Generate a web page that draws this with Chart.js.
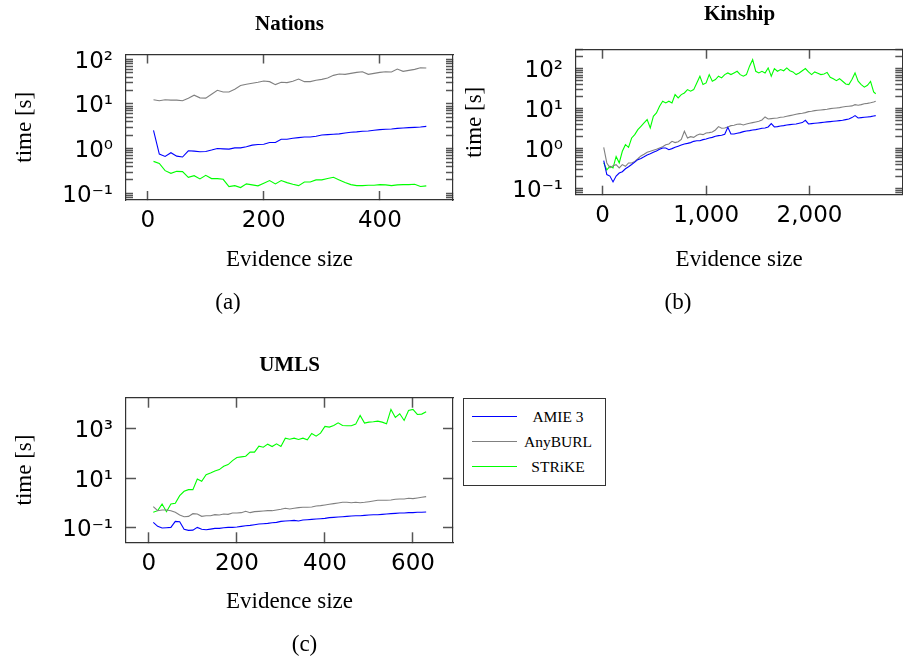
<!DOCTYPE html>
<html><head><meta charset="utf-8">
<script src="https://cdn.jsdelivr.net/npm/chart.js@4.4.1/dist/chart.umd.min.js"></script>
<style>
html,body{margin:0;padding:0;background:#fff;}
body{width:903px;height:662px;position:relative;overflow:hidden;font-family:"Liberation Serif","Times New Roman",serif;color:#000;}
canvas{position:absolute;}
.t{position:absolute;transform:translate(-50%,-50%);white-space:nowrap;line-height:1;}
.title{font-weight:bold;font-size:21px;}
.cap{font-size:23px;}
.lg{position:absolute;height:0;}
.lgt{position:absolute;transform:translate(-50%,-50%);white-space:nowrap;line-height:1;font-size:15.5px;}
</style></head><body>
<canvas id="c1" width="460" height="300" style="left:0;top:0"></canvas>
<canvas id="c2" width="453" height="300" style="left:450px;top:0"></canvas>
<canvas id="c3" width="460" height="300" style="left:0;top:340px"></canvas>

<div class="t title" style="left:289.5px;top:22.7px">Nations</div>
<div class="t title" style="left:739.5px;top:13.3px">Kinship</div>
<div class="t title" style="left:289.5px;top:364px">UMLS</div>
<div class="t cap" style="left:228px;top:301px">(a)</div>
<div class="t cap" style="left:678px;top:301px">(b)</div>
<div class="t cap" style="left:304.5px;top:642.5px">(c)</div>

<div id="legend" style="position:absolute;left:463px;top:398px;width:143px;height:88px;border:1px solid #333;box-sizing:border-box;"></div>

<script>
// ---------- Data ----------
const seriesNames = ['AMIE 3', 'AnyBURL', 'STRiKE'];
const seriesColors = ['#0000ff', '#808080', '#00ff00'];

// Nations
const nationsX = [10,20,30,40,50,60,70,80,90,100,110,120,130,140,150,160,170,180,190,200,210,220,230,240,250,260,270,280,290,300,310,320,330,340,350,360,370,380,390,400,410,420,430,440,450,460,470,480];
const nationsAmie = [2.58,0.755,0.67,0.81,0.68,0.65,0.895,0.88,0.85,0.865,0.93,1.01,0.99,0.975,1.04,1.04,1.10,1.20,1.24,1.26,1.37,1.37,1.63,1.63,1.71,1.77,1.83,1.83,1.90,2.03,2.06,2.10,2.14,2.25,2.33,2.37,2.45,2.49,2.58,2.67,2.71,2.76,2.85,2.90,2.95,3.00,3.06,3.16];
const nationsAnyburl = [12.4,11.8,12.4,12.2,12.2,11.8,13.5,15.7,13.7,13.5,16.5,20.3,18.6,18.6,21.4,25.8,27.6,29.0,30.6,32.7,31.6,27.1,30.6,30.0,32.2,36.2,31.6,31.6,33.9,35.6,38.1,43.7,46.8,46.0,48.4,51.0,52.7,46.0,48.4,51.0,52.7,51.9,60.5,53.7,56.5,59.4,64.7,63.6];
const nationsStrike = [0.519,0.468,0.322,0.281,0.311,0.306,0.229,0.249,0.210,0.253,0.214,0.214,0.206,0.142,0.149,0.135,0.163,0.155,0.147,0.168,0.193,0.163,0.193,0.174,0.160,0.149,0.180,0.180,0.20,0.20,0.214,0.229,0.20,0.174,0.157,0.149,0.149,0.152,0.152,0.157,0.155,0.149,0.155,0.157,0.157,0.160,0.142,0.147];

// Kinship
const kinshipX = [10,40,70,100,130,160,190,220,250,280,310,340,370,400,430,460,490,520,550,580,610,640,670,700,730,760,790,820,850,880,910,940,970,1000,1030,1060,1090,1120,1150,1180,1210,1240,1270,1300,1330,1360,1390,1420,1450,1480,1510,1540,1570,1600,1630,1660,1690,1720,1750,1780,1810,1840,1870,1900,1930,1960,1990,2020,2050,2080,2110,2140,2170,2200,2230,2260,2290,2320,2350,2380,2410,2440,2470,2500,2530,2560,2590,2620,2640];
const kinshipAmie = [0.51,0.23,0.21,0.15,0.21,0.25,0.27,0.32,0.36,0.41,0.47,0.54,0.58,0.64,0.71,0.76,0.83,0.89,0.98,1.06,1.06,0.96,1.02,1.1,1.17,1.25,1.33,1.38,1.44,1.55,1.61,1.61,1.71,1.77,1.88,1.95,2.07,2.15,2.2,2.33,3.48,2.37,2.37,2.46,2.56,2.71,2.82,2.87,2.98,3.04,3.16,3.29,3.35,3.55,4.3,3.55,3.62,3.76,3.83,3.98,4.06,4.14,4.22,4.39,4.56,5.2,4.22,4.3,4.39,4.47,4.56,4.65,4.74,4.83,4.92,5.0,5.1,5.2,5.41,5.62,6.07,6.81,5.96,6.07,6.19,6.31,6.43,6.69,6.81];
const kinshipAnyburl = [1.1,0.447,0.34,0.38,0.406,0.335,0.406,0.369,0.447,0.447,0.49,0.57,0.67,0.74,0.83,0.875,0.93,0.98,1.06,1.14,1.28,1.33,1.55,1.44,1.52,1.74,2.77,1.88,2.03,1.95,2.2,2.37,2.28,2.51,2.56,2.66,2.98,3.62,3.29,3.35,3.55,3.83,3.9,4.14,4.22,3.98,4.22,4.39,4.56,4.74,4.92,5.31,6.31,5.62,5.73,5.84,5.96,6.19,6.31,6.56,6.81,7.08,7.36,7.64,7.79,8.1,8.57,8.74,9.08,9.26,9.44,9.62,9.8,10.2,10.4,10.6,10.8,11.2,11.5,11.7,11.9,12.8,12.4,12.8,13.5,13.8,14.3,14.9,15.5];
const kinshipStrike = [0.45,0.30,0.37,0.335,0.65,0.45,0.875,1.28,1.1,1.88,2.28,3.04,3.69,4.47,5.41,3.35,6.56,7.94,11.7,15.6,14.1,15.6,14.1,22.8,18.8,22.8,25.1,30.4,27.7,30.4,44.7,65.6,40.6,44.7,72.1,49.2,54.1,65.6,59.6,72.1,79.4,72.1,79.4,87.4,72,65.6,72.1,117,170,87.4,79.4,87.4,79.4,106,65.6,102,87.4,96.2,90,106,90,84,72.1,79.4,90,102,84,72.1,84,78,72.1,75,82,62,57,51,57,49.2,42,40.6,54.1,79.4,49.2,40.6,35,39,49,26.5,24];

// UMLS
const umlsX = [10,20,30,40,50,60,70,80,90,100,110,120,130,140,150,160,170,180,190,200,210,220,230,240,250,260,270,280,290,300,310,320,330,340,350,360,370,380,390,400,410,420,430,440,450,460,470,480,490,500,510,520,530,540,550,560,570,580,590,600,610,620,630];
const umlsAmie = [0.164,0.113,0.097,0.100,0.103,0.180,0.175,0.086,0.078,0.080,0.103,0.086,0.083,0.088,0.094,0.094,0.100,0.103,0.103,0.106,0.113,0.120,0.124,0.132,0.141,0.145,0.150,0.159,0.164,0.180,0.186,0.192,0.198,0.186,0.204,0.210,0.217,0.224,0.231,0.238,0.254,0.262,0.270,0.278,0.287,0.296,0.305,0.305,0.315,0.325,0.335,0.335,0.346,0.356,0.368,0.379,0.392,0.392,0.404,0.404,0.417,0.417,0.430];
const umlsAnyburl = [0.705,0.486,0.518,0.518,0.486,0.417,0.325,0.278,0.287,0.368,0.356,0.287,0.305,0.305,0.335,0.325,0.356,0.346,0.392,0.392,0.404,0.457,0.404,0.443,0.457,0.471,0.486,0.486,0.518,0.551,0.604,0.568,0.604,0.643,0.663,0.663,0.684,0.75,0.774,0.824,0.877,0.933,0.993,1.06,1.06,1.02,1.06,1.02,1.06,1.12,1.19,1.27,1.27,1.27,1.31,1.40,1.44,1.44,1.53,1.49,1.58,1.68,1.79];
const umlsStrike = [0.417,0.486,0.904,0.443,0.904,0.962,1.96,2.94,3.43,3.43,9.25,7.45,13.8,16.2,19.5,22.0,30.1,35.1,50.9,67.3,71.6,76.3,111,111,193,176,233,187,240,187,407,370,407,359,407,348,628,490,648,1205,1132,1322,1694,1322,1282,1282,1497,3350,1642,1803,1860,1979,1803,1545,5860,2782,3914,2104,5335,5860,3680,3795,4714];

// Tick values / labels
const nationsXTicks = [0, 200, 400];
const kinshipXTicks = [0, 1000, 2000];
const umlsXTicks = [0, 200, 400, 600];
const nationsYTicks = [0.1, 1, 10, 100];
const nationsYLabels = ['10\u207B\u00B9', '10\u2070', '10\u00B9', '10\u00B2'];
const kinshipYTicks = [0.1, 1, 10, 100];
const kinshipYLabels = ['10\u207B\u00B9', '10\u2070', '10\u00B9', '10\u00B2'];
const umlsYTicks = [0.1, 10, 1000];
const umlsYLabels = ['10\u207B\u00B9', '10\u00B9', '10\u00B3'];

// ---------- Drawing ----------
function buildYTicks(majors, withMinor, min, max) {
  const out = [];
  if (withMinor) {
    for (let k = -3; k <= 5; k++) {
      for (let s = 1; s <= 9; s++) {
        const v = s * Math.pow(10, k);
        if (v >= min && v <= max) out.push({value: v, major: s === 1});
      }
    }
  } else {
    majors.forEach(v => out.push({value: v, major: true}));
  }
  return out;
}

const FRAME = '#333333';
const TICKC = '#555555';

function makeChart(id, p) {
  const yList = buildYTicks(p.yTicks, p.minor, p.yMin, p.yMax);
  const series = [p.amie, p.anyburl, p.strike];
  const datasets = series.map((s, j) => ({
    label: seriesNames[j],
    data: p.xs.map((x, i) => ({x: x, y: s[i]})),
    borderColor: seriesColors[j],
    borderWidth: 1.1,
    pointRadius: 0,
    fill: false,
    tension: 0,
    xAxisID: 'x',
    yAxisID: 'y'
  }));
  const tickFont = {family: 'DejaVu Sans', size: 23, weight: 'normal'};
  const titleFont = {family: 'Liberation Serif', size: 23};
  const gridX = {display: true, drawOnChartArea: false, drawTicks: true, tickLength: -p.xLen, tickColor: TICKC, tickWidth: 1.5};
  const gridY = {display: true, drawOnChartArea: false, drawTicks: true, tickLength: -p.yLen, tickColor: TICKC, tickWidth: 1.5};
  const border = {display: true, color: FRAME, width: 1.2};
  const xTickObjs = () => p.xTicks.map(v => ({value: v, major: true}));
  const yTickObjs = () => yList.map(t => ({value: t.value, major: t.major}));
  new Chart(document.getElementById(id), {
    type: 'line',
    data: {datasets: datasets},
    options: {
      responsive: false,
      animation: false,
      events: [],
      layout: {padding: p.pad},
      plugins: {
        legend: {display: false},
        tooltip: {enabled: false},
        title: {display: false}
      },
      scales: {
        x: {
          type: 'linear', position: 'bottom', bounds: 'data',
          min: p.xMin, max: p.xMax,
          grid: gridX, border: border,
          ticks: {
            padding: 7.5 + p.xLen, font: tickFont, color: '#000', autoSkip: false, maxRotation: 0,
            callback: v => Number(v).toLocaleString('en-US')
          },
          afterBuildTicks: s => { s.ticks = xTickObjs(); },
          afterFit: s => { s.height = 80; },
          title: {display: true, text: 'Evidence size', font: titleFont, color: '#000', padding: {top: 0, bottom: p.xTitlePad}}
        },
        x2: {
          type: 'linear', position: 'top', bounds: 'data',
          min: p.xMin, max: p.xMax,
          grid: gridX, border: border,
          ticks: {display: false},
          afterBuildTicks: s => { s.ticks = xTickObjs(); },
          afterFit: s => { s.height = 0; }
        },
        y: {
          type: 'logarithmic', position: 'left', bounds: 'data',
          min: p.yMin, max: p.yMax,
          grid: gridY, border: border,
          ticks: {
            padding: 13 + p.yLen, labelOffset: 2.5, font: tickFont, color: '#000', autoSkip: false,
            callback: v => {
              const i = p.yTicks.findIndex(m => Math.abs(Math.log10(m) - Math.log10(v)) < 1e-6);
              return i >= 0 ? p.yLabels[i] : '';
            }
          },
          afterBuildTicks: s => { s.ticks = yTickObjs(); },
          afterFit: s => { s.width = 126; },
          title: {display: true, text: 'time [s]', font: titleFont, color: '#000', padding: {top: 10.7, bottom: 0}}
        },
        y2: {
          type: 'logarithmic', position: 'right', bounds: 'data',
          min: p.yMin, max: p.yMax,
          grid: gridY, border: border,
          ticks: {display: false},
          afterBuildTicks: s => { s.ticks = yTickObjs(); },
          afterFit: s => { s.width = 0; }
        }
      }
    }
  });
}

makeChart('c1', {
  xs: nationsX, amie: nationsAmie, anyburl: nationsAnyburl, strike: nationsStrike,
  xMin: -37.4, xMax: 526, yMin: 0.071, yMax: 128,
  xTicks: nationsXTicks, yTicks: nationsYTicks, yLabels: nationsYLabels, minor: true,
  pad: {left: 0, top: 54.5, right: 7, bottom: 20},
  xTitlePad: 6.2, xLen: 9, yLen: 7
});
makeChart('c2', {
  xs: kinshipX, amie: kinshipAmie, anyburl: kinshipAnyburl, strike: kinshipStrike,
  xMin: -258, xMax: 2897, yMin: 0.072, yMax: 302,
  xTicks: kinshipXTicks, yTicks: kinshipYTicks, yLabels: kinshipYLabels, minor: true,
  pad: {left: 0, top: 49.7, right: 0.7, bottom: 25.3},
  xTitlePad: 0.9, xLen: 9, yLen: 7
});
makeChart('c3', {
  xs: umlsX, amie: umlsAmie, anyburl: umlsAnyburl, strike: umlsStrike,
  xMin: -52, xMax: 691, yMin: 0.0258, yMax: 17400,
  xTicks: umlsXTicks, yTicks: umlsYTicks, yLabels: umlsYLabels, minor: false,
  pad: {left: 0, top: 57.7, right: 7, bottom: 17.7},
  xTitlePad: 6.8, xLen: 10, yLen: 10
});

// Legend (HTML)
const rowsY = [416.7, 442, 467];
seriesNames.forEach((name, j) => {
  const line = document.createElement('div');
  line.className = 'lg';
  line.style.cssText = 'left:472px;width:45px;top:' + (rowsY[j] - 0.6) + 'px;border-top:1.2px solid ' + seriesColors[j] + ';';
  document.body.appendChild(line);
  const txt = document.createElement('div');
  txt.className = 'lgt';
  txt.style.left = '558px';
  txt.style.top = rowsY[j] + 'px';
  txt.textContent = name;
  document.body.appendChild(txt);
});
</script>
</body></html>
